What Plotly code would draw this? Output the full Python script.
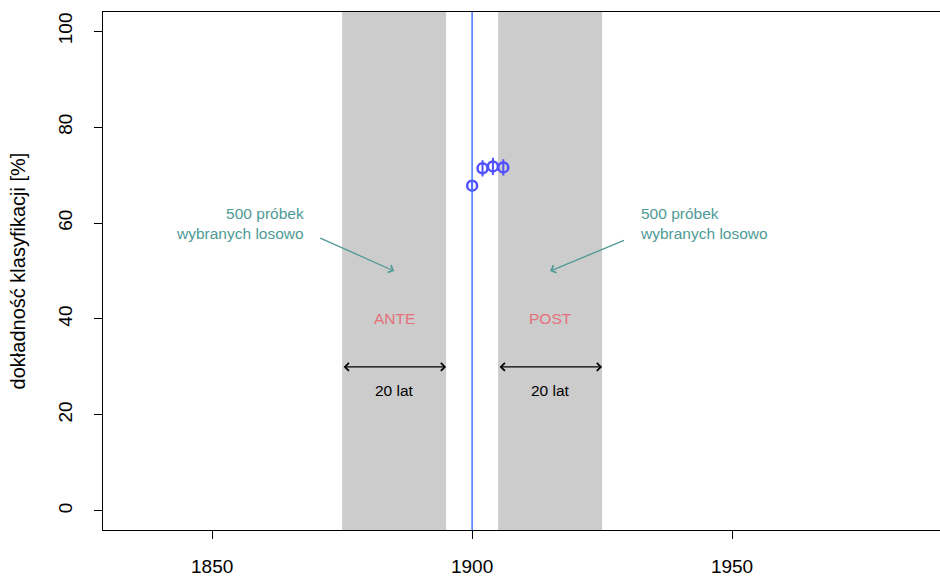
import plotly.graph_objects as go

# data
years = [1900, 1902, 1904, 1906]
accuracy = [67.8, 71.4, 71.8, 71.6]
err = [1.0, 1.7, 1.8, 1.7]
ante_span = [1875, 1895]
post_span = [1905, 1925]
cut_year = 1900
x_ticks = [1850, 1900, 1950]
y_ticks = [0, 20, 40, 60, 80, 100]

TEAL = "#4E9A96"
RED = "#E5707A"
FONT = "Liberation Sans, Arial, sans-serif"

fig = go.Figure()

# grey bands
for span in (ante_span, post_span):
    fig.add_shape(type="rect", x0=span[0], x1=span[1], y0=-4, y1=104,
                  fillcolor="#CCCCCC", line_width=0, layer="below")

# vertical line
fig.add_shape(type="line", x0=cut_year, x1=cut_year, y0=-4, y1=104,
              line=dict(color="#4876FF", width=1.5))

fig.add_trace(go.Scatter(
    x=years, y=accuracy, mode="markers",
    marker=dict(symbol="circle-open", size=10, color="#5050FF",
                line=dict(width=2.5, color="#5050FF")),
    error_y=dict(type="data", array=err, color="#5050FF", thickness=2, width=0),
    showlegend=False))

# annotations: text
fig.add_annotation(x=1868, y=60, text="500 próbek<br>wybranych losowo",
                   showarrow=False, xanchor="right", align="right",
                   font=dict(color=TEAL, size=15.5, family=FONT))
fig.add_annotation(x=1932, y=60, text="500 próbek<br>wybranych losowo",
                   showarrow=False, xanchor="left", align="left",
                   font=dict(color=TEAL, size=15.5, family=FONT))

# teal arrows
fig.add_annotation(x=1885, y=50, ax=1870.5, ay=57, xref="x", yref="y",
                   axref="x", ayref="y", text="", showarrow=True,
                   arrowhead=4, arrowsize=1.2, arrowwidth=1.3, arrowcolor=TEAL)
fig.add_annotation(x=1915, y=50, ax=1929.5, ay=56.5, xref="x", yref="y",
                   axref="x", ayref="y", text="", showarrow=True,
                   arrowhead=4, arrowsize=1.2, arrowwidth=1.3, arrowcolor=TEAL)

# labels ANTE / POST
for xc, lab in ((sum(ante_span) / 2, "ANTE"), (sum(post_span) / 2, "POST")):
    fig.add_annotation(x=xc, y=40, text=lab, showarrow=False,
                       font=dict(color=RED, size=15.5, family=FONT))
    fig.add_annotation(x=xc, y=25, text="20 lat", showarrow=False,
                       font=dict(color="black", size=15.5, family=FONT))

# double arrows
for span in (ante_span, post_span):
    fig.add_annotation(x=span[1], y=30, ax=span[0], ay=30, xref="x", yref="y",
                       axref="x", ayref="y", text="", showarrow=True,
                       arrowhead=4, startarrowhead=4, arrowside="end+start",
                       arrowsize=1.2, arrowwidth=1.3, arrowcolor="black")

fig.update_layout(
    width=940, height=577,
    margin=dict(l=103, r=0, t=12, b=47),
    plot_bgcolor="white", paper_bgcolor="white",
    font=dict(family=FONT, size=19, color="black"),
    xaxis=dict(range=[1829, 1990], tickvals=x_ticks, ticks="outside",
               ticklen=8, tickwidth=1, tickcolor="black",
               showline=True, linecolor="black", linewidth=1, mirror=True,
               showgrid=False, zeroline=False, ticklabelstandoff=11,
               tickfont=dict(size=19)),
    yaxis=dict(range=[-4, 104], tickvals=y_ticks, ticks="outside",
               ticklen=8, tickwidth=1, tickcolor="black",
               showline=True, linecolor="black", linewidth=1,
               showgrid=False, zeroline=False, tickangle=-90,
               ticklabelstandoff=14, tickfont=dict(size=19),
               title=dict(text="dokładność klasyfikacji [%]", standoff=24,
                          font=dict(size=20))),
)

fig.write_html("out.html")
